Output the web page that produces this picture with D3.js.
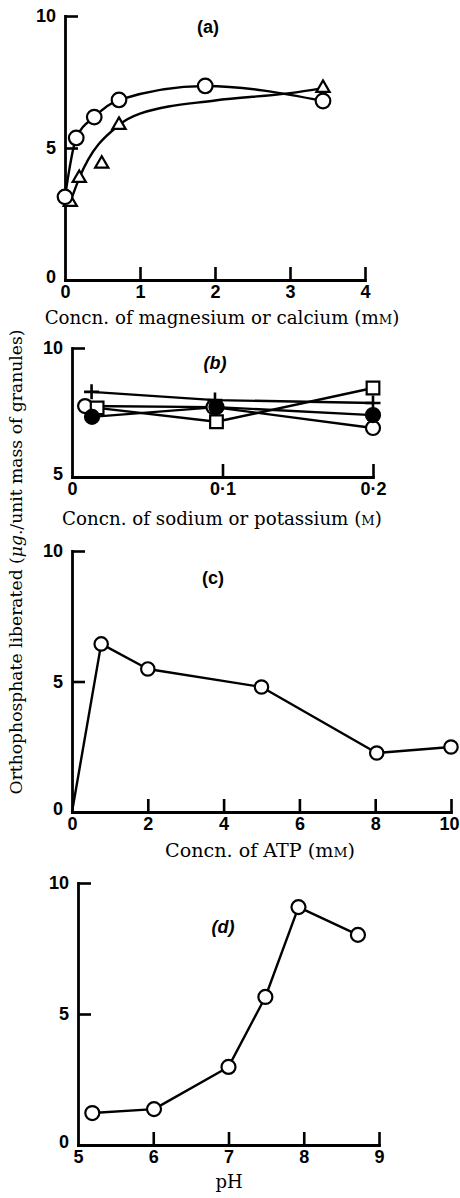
<!DOCTYPE html>
<html><head><meta charset="utf-8">
<script src="https://cdn.jsdelivr.net/npm/d3@7"></script>
<style>
html,body{margin:0;padding:0;background:#fff;}
svg{display:block;}
.ttl{font-family:"DejaVu Serif","Liberation Serif",serif;font-size:16px;fill:#000;}
.plab{font-family:"Liberation Sans",Arial,sans-serif;font-weight:bold;font-size:18px;fill:#000;}
</style></head>
<body>
<script>
// ---------- data ----------
// (a) magnesium (circles) / calcium (triangles)
const aCircX = [0, 0.15, 0.39, 0.72, 1.87, 3.44];
const aCircY = [3.15, 5.38, 6.17, 6.82, 7.35, 6.78];
const aTriX  = [0.07, 0.19, 0.49, 0.72, 3.44];
const aTriY  = [2.95, 3.86, 4.4, 5.87, 7.27];
// fitted curve through triangles
const aTriFitX = [0.07, 0.19, 0.72, 1.0, 2.0, 3.0, 3.44];
const aTriFitY = [2.95, 3.86, 5.87, 6.3, 6.8, 7.08, 7.27];
const aXTicks = [0, 1, 2, 3, 4];
const aYTicks = [0, 5, 10];

// (b) sodium / potassium
const bPlusX = [0.013, 0.095, 0.2];
const bPlusY = [8.3, 7.98, 7.87];
const bOpenX = [0.0087, 0.094, 0.2];
const bOpenY = [7.75, 7.71, 6.9];
const bFillX = [0.0133, 0.096, 0.2];
const bFillY = [7.33, 7.71, 7.4];
const bSqX   = [0.0167, 0.096, 0.2];
const bSqY   = [7.68, 7.14, 8.45];
const bXTicks = [0, 0.1, 0.2];
const bXLabels = ["0", "0·1", "0·2"];
const bYTicks = [5, 10];

// (c) ATP
const cX = [0, 0.77, 2.0, 5.0, 8.04, 10.0];
const cY = [0, 6.44, 5.48, 4.79, 2.26, 2.49];
const cXTicks = [0, 2, 4, 6, 8, 10];
const cYTicks = [0, 5, 10];

// (d) pH
const dX = [5.19, 6.01, 7.0, 7.49, 7.93, 8.72];
const dY = [1.22, 1.37, 2.98, 5.65, 9.08, 8.02];
const dXTicks = [5, 6, 7, 8, 9];
const dYTicks = [0, 5, 10];

// ---------- drawing ----------
const W = 460, H = 1198;
const svg = d3.select("body").append("svg").attr("width", W).attr("height", H);
svg.append("rect").attr("width", W).attr("height", H).attr("fill", "#fff");

const SW = 2.4;
const TICK_FONT = "18px";

function axes(x, y, xTicks, yTicks, xFmt, yFmt) {
  const g = svg.append("g");
  const x0 = x.domain()[0], y0 = y.domain()[0];
  const gx = g.append("g").attr("transform", `translate(0,${y(y0)})`)
    .call(d3.axisBottom(x).tickValues(xTicks).tickSizeInner(-13).tickSizeOuter(0).tickPadding(4)
      .tickFormat(xFmt || (d => d)));
  const gy = g.append("g").attr("transform", `translate(${x(x0)},0)`)
    .call(d3.axisLeft(y).tickValues(yTicks).tickSizeInner(-13).tickSizeOuter(0).tickPadding(9)
      .tickFormat(yFmt || (d => d)));
  [gx, gy].forEach(a => {
    a.attr("font-size", null).attr("font-family", null);
    a.select(".domain").attr("stroke", "#000").attr("stroke-width", 2.8).attr("stroke-linecap", "square");
    a.selectAll(".tick line").attr("stroke", "#000").attr("stroke-width", 2.6);
    a.selectAll(".tick text")
      .style("font-family", '"Liberation Sans", Arial, sans-serif')
      .style("font-weight", "bold").style("font-size", TICK_FONT).attr("fill", "#000");
  });
  gx.selectAll(".tick").filter(d => d === x0).select("line").remove();
  gy.selectAll(".tick").filter(d => d === y0).select("line").remove();
  gx.selectAll(".tick text").attr("dy", "0.8em");
  gy.selectAll(".tick").filter(d => d === y0).select("text").attr("dy", "0.15em");
  return {gx, gy};
}

function line(x, y, xs, ys, curve) {
  const l = d3.line().x(i => x(xs[i])).y(i => y(ys[i])).curve(curve || d3.curveLinear);
  svg.append("path").attr("d", l(d3.range(xs.length)))
    .attr("fill", "none").attr("stroke", "#000").attr("stroke-width", SW).attr("stroke-linejoin", "round");
}
function circles(x, y, xs, ys, r, fill, from) {
  svg.append("g").selectAll("circle").data(d3.range(from || 0, xs.length)).join("circle")
    .attr("cx", i => x(xs[i])).attr("cy", i => y(ys[i])).attr("r", r)
    .attr("fill", fill || "#fff").attr("stroke", "#000").attr("stroke-width", 2.2);
}
function symbols(x, y, xs, ys, type, size) {
  svg.append("g").selectAll("path").data(d3.range(xs.length)).join("path")
    .attr("transform", i => `translate(${x(xs[i])},${y(ys[i])})`)
    .attr("d", d3.symbol(type, size))
    .attr("fill", "#fff").attr("stroke", "#000").attr("stroke-width", 2.2);
}
function pluses(x, y, xs, ys, a) {
  svg.append("g").selectAll("path").data(d3.range(xs.length)).join("path")
    .attr("d", i => { const cx = x(xs[i]), cy = y(ys[i]); return `M${cx - a},${cy}H${cx + a}M${cx},${cy - a}V${cy + a}`; })
    .attr("stroke", "#000").attr("stroke-width", 2.6).attr("fill", "none");
}
// fit a text element to a target width by scaling its font size
function fit(t, target) {
  const fs = parseFloat(getComputedStyle(t.node()).fontSize);
  const w = t.node().getComputedTextLength();
  const k = target / w;
  t.style("font-size", (fs * k) + "px");
  t.selectAll("tspan.sc").style("font-size", (fs * k * 0.72) + "px");
}
function title(parts, x, y, target, transform) {
  const t = svg.append("text").attr("class", "ttl").attr("text-anchor", "middle");
  if (transform) t.attr("transform", transform); else t.attr("x", x).attr("y", y);
  parts.forEach(p => {
    const s = t.append("tspan").text(p.t);
    if (p.sc) s.attr("class", "sc").style("font-size", "11.5px");
    if (p.it) s.attr("font-style", "italic");
  });
  if (target) fit(t, target);
  return t;
}
function plab(txt, cx, cy, italic) {
  svg.append("text").attr("class", "plab").attr("x", cx).attr("y", cy).attr("dy", "0.35em")
    .attr("text-anchor", "middle").attr("font-style", italic ? "italic" : "normal").text(txt);
}

// ---- panel (a)
{
  const x = d3.scaleLinear().domain([0, 4]).range([65, 365]);
  const y = d3.scaleLinear().domain([0, 10]).range([280, 16]);
  axes(x, y, aXTicks, aYTicks);
  line(x, y, aCircX, aCircY, d3.curveMonotoneX);
  line(x, y, aTriFitX, aTriFitY, d3.curveMonotoneX);
  symbols(x, y, aTriX, aTriY, d3.symbolTriangle, 76);
  circles(x, y, aCircX, aCircY, 7.3);
  plab("(a)", 208, 27, false);
  title([{t: "Concn. of magnesium or calcium (m"}, {t: "M", sc: true}, {t: ")"}], 222, 324, 355);
}
// ---- panel (b)
{
  const x = d3.scaleLinear().domain([0, 0.2]).range([72, 373]);
  const y = d3.scaleLinear().domain([5, 10]).range([477, 348]);
  axes(x, y, bXTicks, bYTicks, (d, i) => bXLabels[i]);
  line(x, y, bPlusX, bPlusY);
  line(x, y, bOpenX, bOpenY);
  line(x, y, bFillX, bFillY);
  line(x, y, bSqX, bSqY);
  circles(x, y, bOpenX, bOpenY, 7);
  symbols(x, y, bSqX, bSqY, d3.symbolSquare, 160);
  circles(x, y, bFillX, bFillY, 7, "#000");
  pluses(x, y, bPlusX, bPlusY, 7.5);
  plab("(b)", 215, 363, true);
  title([{t: "Concn. of sodium or potassium ("}, {t: "M", sc: true}, {t: ")"}], 222, 525, 320);
}
// ---- panel (c)
{
  const x = d3.scaleLinear().domain([0, 10]).range([72, 451]);
  const y = d3.scaleLinear().domain([0, 10]).range([812, 551]);
  const {gx} = axes(x, y, cXTicks, cYTicks);
  gx.selectAll(".tick").filter(d => d === 10).select("text").attr("x", -2);
  line(x, y, cX, cY);
  circles(x, y, cX, cY, 6.7, "#fff", 1);
  plab("(c)", 213, 578, false);
  title([{t: "Concn. of ATP (m"}, {t: "M", sc: true}, {t: ")"}], 260, 857, 190);
}
// ---- panel (d)
{
  const x = d3.scaleLinear().domain([5, 9]).range([78, 379]);
  const y = d3.scaleLinear().domain([0, 10]).range([1145, 883]);
  axes(x, y, dXTicks, dYTicks);
  line(x, y, dX, dY);
  circles(x, y, dX, dY, 7);
  plab("(d)", 223, 927, true);
  title([{t: "pH"}], 229, 1188).style("font-size", "18px");
}
// ---- shared y title
title([{t: "Orthophosphate liberated ("}, {t: "μg", it: true}, {t: "./unit mass of granules)"}],
  0, 0, 465, "translate(22,562) rotate(-90)");
</script>
</body></html>
